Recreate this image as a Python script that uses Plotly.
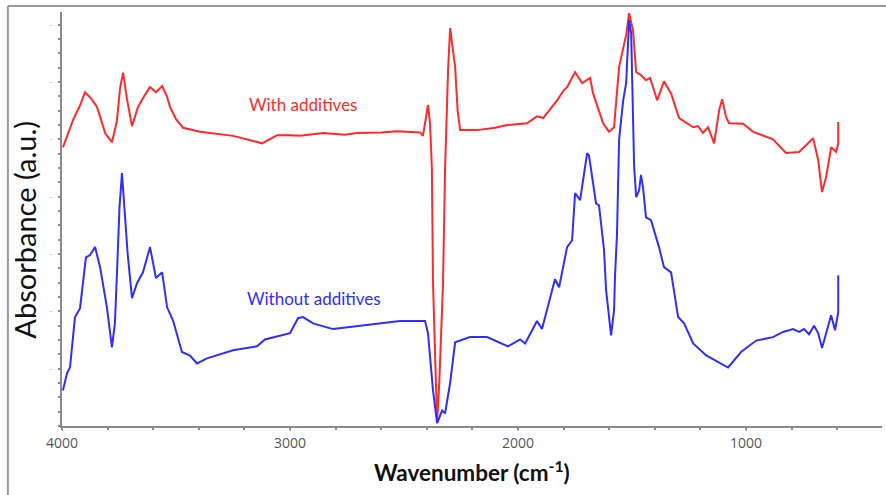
import plotly.graph_objects as go

# FTIR spectra: wavenumber (cm-1) and absorbance (arbitrary units, offset traces)
wn_with = [3996, 3950, 3920, 3899, 3870, 3846, 3810, 3781, 3760, 3745, 3732, 3715, 3693,
           3667, 3640, 3614, 3588, 3561, 3540, 3526, 3500, 3469, 3395, 3250, 3123, 3057,
           3000, 2956, 2855, 2760, 2706, 2600, 2531, 2430, 2417, 2404, 2395, 2386, 2378,
           2373, 2360, 2355, 2345, 2329, 2320, 2307, 2298, 2288, 2276, 2265, 2254, 2180,
           2100, 2048, 1961, 1917, 1890, 1829, 1800, 1785, 1750, 1719, 1684, 1671, 1627,
           1601, 1579, 1557, 1526, 1513, 1496, 1482, 1461, 1439, 1421, 1390, 1360, 1329,
           1294, 1232, 1211, 1189, 1167, 1140, 1118, 1105, 1088, 1075, 1013, 969, 882, 825,
           768, 728, 706, 684, 667, 649, 627, 605, 596, 596]
abs_with = [4.86, 5.35, 5.60, 5.82, 5.70, 5.56, 5.10, 4.95, 5.30, 5.90, 6.16, 5.70, 5.23,
            5.56, 5.75, 5.91, 5.82, 5.93, 5.75, 5.56, 5.35, 5.20, 5.13, 5.06, 4.93, 5.07,
            5.07, 5.06, 5.11, 5.08, 5.11, 5.12, 5.14, 5.12, 5.06, 5.39, 5.60, 5.28, 4.50,
            2.50, 1.00, 0.05, 0.80, 2.50, 4.50, 6.20, 6.94, 6.60, 6.26, 5.50, 5.16, 5.16,
            5.20, 5.25, 5.28, 5.40, 5.37, 5.68, 5.85, 5.91, 6.17, 5.98, 6.07, 5.80, 5.28,
            5.13, 5.21, 6.26, 6.82, 7.20, 6.91, 6.17, 6.12, 6.03, 6.07, 5.68, 6.01, 5.80,
            5.37, 5.21, 5.23, 5.11, 5.21, 4.93, 5.51, 5.70, 5.39, 5.28, 5.27, 5.13, 5.00, 4.76,
            4.78, 4.93, 5.02, 4.64, 4.08, 4.34, 4.86, 4.78, 4.93, 5.30]

wn_without = [3996, 3978, 3965, 3943, 3921, 3895, 3877, 3855, 3833, 3803, 3781, 3768, 3759,
              3748, 3737, 3725, 3712, 3693, 3671, 3645, 3614, 3588, 3561, 3539, 3513, 3474,
              3439, 3408, 3364, 3250, 3145, 3110, 3000, 2965, 2943, 2899, 2811, 2518, 2408,
              2395, 2373, 2355, 2333, 2320, 2298, 2276, 2211, 2136, 2044, 1991, 1969, 1917,
              1895, 1838, 1820, 1785, 1763, 1750, 1728, 1697, 1689, 1658, 1645, 1623, 1614,
              1592, 1579, 1575, 1566, 1557, 1539, 1526, 1513, 1504, 1496, 1491, 1482, 1469,
              1461, 1452, 1439, 1417, 1382, 1360, 1329, 1298, 1272, 1232, 1175, 1079, 1022,
              956, 882, 838, 794, 768, 746, 724, 702, 684, 667, 649, 627, 610, 596, 596]
abs_without = [0.62, 0.92, 1.02, 1.90, 2.05, 2.94, 2.98, 3.12, 2.77, 2.07, 1.37, 1.79, 2.66,
               3.80, 4.41, 3.80, 3.00, 2.23, 2.49, 2.68, 3.12, 2.58, 2.68, 2.07, 1.84, 1.29,
               1.23, 1.09, 1.18, 1.32, 1.39, 1.51, 1.62, 1.88, 1.90, 1.79, 1.69, 1.83, 1.83,
               1.62, 0.62, 0.05, 0.27, 0.22, 0.75, 1.46, 1.55, 1.55, 1.39, 1.51, 1.44, 1.83,
               1.69, 2.56, 2.42, 3.12, 3.24, 4.06, 3.94, 4.76, 4.72, 3.88, 3.85, 3.07, 2.37,
               1.58, 2.02, 2.60, 3.36, 4.99, 5.68, 5.98, 7.08, 6.85, 5.68, 4.52, 3.99, 4.11,
               4.38, 4.16, 3.64, 3.59, 3.12, 2.77, 2.68, 1.90, 1.79, 1.44, 1.23, 1.02, 1.29,
               1.49, 1.55, 1.64, 1.69, 1.64, 1.69, 1.60, 1.75, 1.62, 1.36, 1.62, 1.93, 1.67,
               1.98, 2.63]

x_ticks = [4000, 3000, 2000, 1000]
x_tick_labels = ["4000", "3000", "2000", "1000"]
y_ticks = [1, 2, 3, 4, 5, 6, 7]
y_tick_marks = ["-"] * len(y_ticks)

RED = "#ff2a2a"
BLUE = "#2e2eff"
AXIS = "#8a8a8a"

fig = go.Figure()
fig.add_trace(go.Scatter(x=wn_with, y=abs_with, mode="lines",
                         line=dict(color=RED, width=2), showlegend=False))
fig.add_trace(go.Scatter(x=wn_without, y=abs_without, mode="lines",
                         line=dict(color=BLUE, width=2), showlegend=False))

fig.add_annotation(x=2943, y=5.61, text="With additives", showarrow=False,
                   xanchor="center", yanchor="middle",
                   font=dict(family="Lato", size=17, color=RED))
fig.add_annotation(x=2895, y=2.23, text="Without additives", showarrow=False,
                   xanchor="center", yanchor="middle",
                   font=dict(family="Lato", size=17, color=BLUE))

# axis titles
fig.add_annotation(xref="paper", yref="paper", x=-0.046, y=0.475, textangle=-90,
                   xanchor="center", yanchor="middle",
                   text="Absorbance (a.u.)", showarrow=False,
                   font=dict(family="Lato", size=29, color="#111"))
fig.add_annotation(xref="paper", yref="paper", x=0.5, y=-0.108,
                   xanchor="center", yanchor="middle",
                   text="<b>Wavenumber (cm<sup>-1</sup>)</b>", showarrow=False,
                   font=dict(family="Lato", size=22.5, color="#111"))

# outer frame (top and left edges)
fig.add_shape(type="line", xref="paper", yref="paper", x0=-0.066, x1=1.02,
              y0=1.0145, y1=1.0145, line=dict(color="#9a9a9a", width=2))
fig.add_shape(type="line", xref="paper", yref="paper", x0=-0.066, x1=-0.066,
              y0=1.0145, y1=-0.2, line=dict(color="#9a9a9a", width=2))

fig.update_xaxes(range=[4000, 404], tickvals=x_ticks, ticktext=x_tick_labels,
                 showgrid=False, zeroline=False, showline=True, linecolor=AXIS,
                 linewidth=1.5, ticks="outside", ticklen=3, tickcolor=AXIS,
                 tickfont=dict(family="Open Sans", size=14, color="#555"),
                 ticklabelstandoff=0,
                 minor=dict(dtick=200, tick0=0, ticks="outside", ticklen=2,
                            tickcolor=AXIS, tickwidth=2))
fig.update_yaxes(range=[0, 7.22], tickvals=y_ticks, ticktext=y_tick_marks,
                 tickfont=dict(family="Open Sans", size=9, color="#b0b0b0"),
                 ticklabelstandoff=4,
                 showgrid=False, zeroline=False, showline=True, linecolor=AXIS,
                 linewidth=1.5, ticks="outside", ticklen=2, tickcolor=AXIS,
                 minor=dict(dtick=0.25, tick0=0, ticks="outside", ticklen=2,
                            tickcolor=AXIS, tickwidth=2))

fig.update_layout(width=886, height=495, margin=dict(l=62, r=4, t=12, b=69),
                  paper_bgcolor="white", plot_bgcolor="white")

fig.write_html("out.html")
